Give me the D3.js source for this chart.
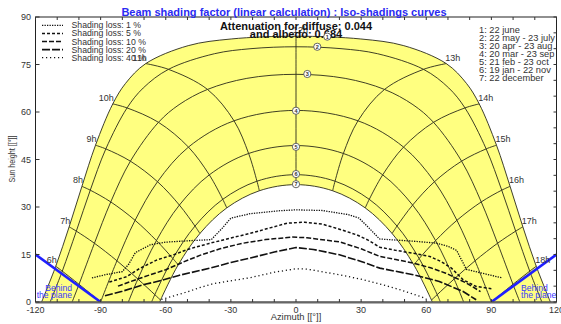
<!DOCTYPE html>
<html>
<head>
<meta charset="utf-8">
<script src="https://cdn.jsdelivr.net/npm/d3@7"></script>
<style>
  body { margin: 0; background: #fff; }
  svg { display: block; font-family: "Liberation Sans", Arial, sans-serif; }
</style>
</head>
<body>
<div id="chart"></div>
<script>
// sun paths: [solar hour, azimuth, height], hour null = sunrise / sunset
const datesLabels = ['1: 22 june', '2: 22 may - 23 july', '3: 20 apr - 23 aug', '4: 20 mar - 23 sep',
  '5: 21 feb - 23 oct', '6: 19 jan - 22 nov', '7: 22 december'];

const path1 = [[null,-117.19,0],[6,-110.67,11.29],[7,-104.50,23.74],[8,-98.61,36.52],[9,-92.36,49.51],[10,-84.40,62.56],[10.5,-78.54,69.02],[11,-69.21,75.29],[11.5,-49.67,80.95],[11.75,-29.85,83.06],[12,0,83.93],[12.25,29.85,83.06],[12.5,49.67,80.95],[13,69.21,75.29],[13.5,78.54,69.02],[14,84.40,62.56],[15,92.36,49.51],[16,98.61,36.52],[17,104.50,23.74],[18,110.67,11.29],[null,117.19,0]];
const path2 = [[null,-113.26,0],[6,-107.67,9.74],[7,-101.19,22.38],[8,-94.77,35.31],[9,-87.60,48.35],[10,-77.82,61.29],[10.5,-70.38,67.58],[11,-58.75,73.47],[11.5,-37.58,78.40],[11.75,-20.73,80.00],[12,0,80.60],[12.25,20.73,80.00],[12.5,37.58,78.40],[13,58.75,73.47],[13.5,70.38,67.58],[14,77.82,61.29],[15,87.60,48.35],[16,94.77,35.31],[17,101.19,22.38],[18,107.67,9.74],[null,113.26,0]];
const path3 = [[null,-103.13,0],[6,-99.95,5.58],[7,-92.85,18.55],[8,-85.33,31.60],[9,-76.28,44.47],[10,-63.35,56.74],[10.5,-53.87,62.31],[11,-40.77,67.13],[11.5,-22.66,70.62],[12,0,71.90],[12.5,22.66,70.62],[13,40.77,67.13],[13.5,53.87,62.31],[14,63.35,56.74],[15,76.28,44.47],[16,85.33,31.60],[17,92.85,18.55],[18,99.95,5.58],[null,103.13,0]];
const path4 = [[6,-90,0],[7,-82.48,13.02],[8,-74.13,25.80],[9,-63.79,37.98],[10,-49.54,48.92],[11,-28.55,57.22],[12,0,60.50],[13,28.55,57.22],[14,49.54,48.92],[15,63.79,37.98],[16,74.13,25.80],[17,82.48,13.02],[18,90,0]];
const path5 = [[null,-77.22,0],[7,-72.84,7.25],[8,-64.29,19.40],[9,-53.72,30.61],[10,-39.94,40.15],[11,-21.83,46.90],[12,0,49.40],[13,21.83,46.90],[14,39.94,40.15],[15,53.72,30.61],[16,64.29,19.40],[17,72.84,7.25],[null,77.22,0]];
const path6 = [[null,-66.51,0],[7,-65.05,2.32],[8,-56.73,13.73],[9,-46.53,23.98],[10,-33.75,32.42],[11,-17.98,38.15],[12,0,40.20],[13,17.98,38.15],[14,33.75,32.42],[15,46.53,23.98],[16,56.73,13.73],[17,65.05,2.32],[null,66.51,0]];
const path7 = [[null,-62.81,0],[7,-62.41,0.62],[8,-54.25,11.74],[9,-44.26,21.64],[10,-31.89,29.72],[11,-16.88,35.13],[12,0,37.06],[13,16.88,35.13],[14,31.89,29.72],[15,44.26,21.64],[16,54.25,11.74],[17,62.41,0.62],[null,62.81,0]];

const hours = [6, 7, 8, 9, 10, 11, 12, 13, 14, 15, 16, 17, 18];
const markerPos = [[14.4,83.8],[9.8,80.6],[5.2,72.0],[0,60.4],[0,49.0],[0,40.4],[0,37.2]];

// iso-shading curves [azimuth, height]
const shadeNames = ['Shading loss: 1 %', 'Shading loss: 5 %', 'Shading loss: 10 %', 'Shading loss: 20 %', 'Shading loss: 40 %'];
const shade1 = [[-94,7.6],[-88,8.6],[-80,9.6],[-77,12.0],[-74,15.6],[-67,18.1],[-60,18.9],[-48,19.4],[-39,19.7],[-34,23.3],[-30,26.5],[-21,27.9],[-8,28.8],[0,29.1],[12,28.9],[24,27.6],[29,26.5],[33,23.8],[38.5,19.9],[54,19.2],[64.5,18.6],[70,17.6],[74,16.3],[78.5,10.3],[84.5,9.3],[95,7.6]];
const shade2 = [[-86,6.3],[-78,8.0],[-72,10.6],[-64,13.3],[-56,15.0],[-50,16.6],[-40,18.5],[-30,20.2],[-21,21.7],[-12,23.4],[-4,24.9],[4,25.2],[12,24.6],[20,23.0],[28,21.2],[33,19.6],[38.6,17.3],[46,16.3],[54,15.4],[61.6,14.4],[67,12.7],[71.6,10.7],[77,7.0],[83,4.9],[90,4.2]];
const shade3 = [[-82,5.0],[-76,6.5],[-68,8.4],[-60,10.2],[-52,12.6],[-44,14.8],[-35,16.8],[-25,18.5],[-14,19.7],[-2,20.5],[5,20.3],[20,19.0],[30,16.8],[38.6,14.4],[46,13.4],[54,12.3],[62,10.8],[69,9.1],[78.5,6.0],[85,3.3]];
const shade4 = [[-88,2.0],[-80,3.4],[-70,5.5],[-62,6.8],[-54,8.4],[-39.5,10.7],[-30,12.5],[-21,13.9],[-10,15.8],[0,17.2],[8,16.6],[20,14.9],[30,12.8],[38.6,10.7],[54,8.6],[66,6.5],[77,3.3],[83,0.7]];
const shade5 = [[-62,0.8],[-51,3.0],[-44,4.6],[-38,5.8],[-21,7.7],[-10,9.4],[0,10.5],[5,10.4],[20,8.6],[30,7.2],[38.6,5.7],[47.8,3.9],[57,1.8],[60,1.0]];

const behindWest = [[-120,15],[-90,0]];
const behindEast = [[90,0],[120,15]];

const xTicks = [-120, -90, -60, -30, 0, 30, 60, 90, 120];
const yTicks = [0, 15, 30, 45, 60, 75, 90];

const width = 561;
const height = 324;
const mLeft = 35.5, mRight = 556.5, mTop = 17, mBottom = 302;

const svg = d3.select('#chart').append('svg')
  .attr('width', width)
  .attr('height', height);

/* Scale */
const xScale = d3.scaleLinear().domain([-120, 120]).range([mLeft, mRight]);
const yScale = d3.scaleLinear().domain([0, 90]).range([mBottom, mTop]);

svg.append('defs').append('clipPath').attr('id', 'plot')
  .append('rect')
  .attr('x', mLeft).attr('y', mTop)
  .attr('width', mRight - mLeft).attr('height', mBottom - mTop);

const plot = svg.append('g').attr('clip-path', 'url(#plot)');

const sunLine = d3.line()
  .x(d => xScale(d[1]))
  .y(d => yScale(d[2]))
  .curve(d3.curveCatmullRom);

const paths = [path1, path2, path3, path4, path5, path6, path7];

/* yellow band between june and december */
const outer = sunLine(path1);
const inner = sunLine(path7.slice().reverse()).replace(/^M/, 'L');
plot.append('path')
  .attr('d', outer + inner + 'Z')
  .attr('fill', '#ffff80')
  .attr('stroke', 'none');

/* date curves */
plot.selectAll('.date-line')
  .data(paths).enter()
  .append('path')
  .attr('class', 'date-line')
  .attr('d', d => sunLine(d))
  .attr('fill', 'none')
  .attr('stroke', '#2a2a1a')
  .attr('stroke-width', 0.9);

/* hour lines */
const hourPts = hours.map(h => paths.map(p => p.find(q => q[0] === h)).filter(q => q));
plot.selectAll('.hour-line')
  .data(hourPts).enter()
  .append('path')
  .attr('class', 'hour-line')
  .attr('d', d => sunLine(d))
  .attr('fill', 'none')
  .attr('stroke', '#2a2a1a')
  .attr('stroke-width', 0.9);

/* iso-shading curves */
const shades = [shade1, shade2, shade3, shade4, shade5];
const dashes = ['1.3,1.2', '3,2', '5,2', '8,2', '1.2,2.8'];
const widths = [1.3, 1.5, 1.5, 1.6, 1.3];
const shadeLine = d3.line()
  .x(d => xScale(d[0]))
  .y(d => yScale(d[1]));

plot.selectAll('.shade')
  .data(shades).enter()
  .append('path')
  .attr('class', 'shade')
  .attr('d', d => shadeLine(d))
  .attr('fill', 'none')
  .attr('stroke', '#111')
  .attr('stroke-width', (d, i) => widths[i])
  .attr('stroke-dasharray', (d, i) => dashes[i]);

/* behind the plane */
plot.selectAll('.behind')
  .data([behindWest, behindEast]).enter()
  .append('path')
  .attr('class', 'behind')
  .attr('d', d => shadeLine(d))
  .attr('fill', 'none')
  .attr('stroke', '#1f1fff')
  .attr('stroke-width', 2.6);

/* hour labels at the june curve */
svg.selectAll('.hour-label')
  .data(hours).enter()
  .append('text')
  .attr('class', 'hour-label')
  .attr('x', h => {
    const p = path1.find(q => q[0] === h);
    return h < 12 ? xScale(p[1]) + 1 : h > 12 ? xScale(p[1]) - 1 : xScale(p[1]) - 3;
  })
  .attr('y', h => yScale(path1.find(q => q[0] === h)[2]) - 3)
  .attr('text-anchor', h => h < 12 ? 'end' : 'start')
  .attr('font-size', '9px')
  .attr('fill', '#333')
  .text(h => h + 'h');

/* behind the plane text */
const bw = svg.append('text').attr('font-size', '8.6px').attr('fill', '#3a3aff').attr('text-anchor', 'end');
bw.append('tspan').attr('x', 72).attr('y', 291).text('Behind');
bw.append('tspan').attr('x', 72).attr('y', 298).text('the plane');
const be = svg.append('text').attr('font-size', '8.6px').attr('fill', '#3a3aff').attr('text-anchor', 'start');
be.append('tspan').attr('x', 521).attr('y', 291).text('Behind');
be.append('tspan').attr('x', 521).attr('y', 298).text('the plane');

/* frame and ticks */
svg.append('rect')
  .attr('x', mLeft).attr('y', mTop)
  .attr('width', mRight - mLeft).attr('height', mBottom - mTop)
  .attr('fill', 'none')
  .attr('stroke', '#222')
  .attr('stroke-width', 1);
svg.append('line')
  .attr('x1', mLeft).attr('x2', mRight)
  .attr('y1', mBottom + 0.5).attr('y2', mBottom + 0.5)
  .attr('stroke', '#666').attr('stroke-width', 2);

const xMinor = d3.range(-120, 121, 10);
const yMinor = d3.range(0, 91, 5);
const ticks = svg.append('g').attr('stroke', '#333').attr('stroke-width', 1);
xMinor.forEach(v => {
  ticks.append('line').attr('x1', xScale(v)).attr('x2', xScale(v)).attr('y1', mBottom).attr('y2', mBottom - 3);
  ticks.append('line').attr('x1', xScale(v)).attr('x2', xScale(v)).attr('y1', mTop).attr('y2', mTop + 3);
});
yMinor.forEach(v => {
  ticks.append('line').attr('x1', mRight).attr('x2', mRight - 3).attr('y1', yScale(v)).attr('y2', yScale(v));
});
yTicks.forEach(v => {
  ticks.append('line').attr('x1', mLeft).attr('x2', mLeft + 4).attr('y1', yScale(v)).attr('y2', yScale(v));
});

svg.selectAll('.xlab')
  .data(xTicks).enter()
  .append('text')
  .attr('x', d => xScale(d))
  .attr('y', 313)
  .attr('text-anchor', 'middle')
  .attr('font-size', '9px')
  .attr('fill', '#333')
  .text(d => d);

svg.selectAll('.ylab')
  .data(yTicks).enter()
  .append('text')
  .attr('x', 31)
  .attr('y', d => yScale(d) + 3)
  .attr('text-anchor', 'end')
  .attr('font-size', '9px')
  .attr('fill', '#333')
  .text(d => d);

svg.append('text')
  .attr('x', 296).attr('y', 320)
  .attr('text-anchor', 'middle')
  .attr('font-size', '9.4px')
  .attr('fill', '#333')
  .text('Azimuth [[°]]');

svg.append('text')
  .attr('transform', 'translate(15, 159) rotate(-90)')
  .attr('text-anchor', 'middle')
  .attr('font-size', '9px')
  .attr('textLength', 47)
  .attr('lengthAdjust', 'spacingAndGlyphs')
  .attr('fill', '#333')
  .text('Sun height [[°]]');

/* title */
svg.append('text')
  .attr('x', 284).attr('y', 15.5)
  .attr('text-anchor', 'middle')
  .attr('font-size', '11px')
  .attr('font-weight', 'bold')
  .attr('fill', '#2a2af2')
  .text('Beam shading factor (linear calculation) : Iso-shadings curves');

svg.append('text')
  .attr('x', 296).attr('y', 29.5)
  .attr('text-anchor', 'middle')
  .attr('font-size', '11px')
  .attr('font-weight', 'bold')
  .attr('fill', '#111')
  .text('Attenuation for diffuse: 0.044');
svg.append('text')
  .attr('x', 296).attr('y', 38)
  .attr('text-anchor', 'middle')
  .attr('font-size', '11px')
  .attr('font-weight', 'bold')
  .attr('fill', '#111')
  .text('and albedo: 0.684');

/* date markers */
const marks = svg.selectAll('.marker')
  .data(markerPos).enter()
  .append('g')
  .attr('class', 'marker')
  .attr('transform', d => `translate(${xScale(d[0])}, ${yScale(d[1])})`);
marks.append('circle')
  .attr('r', 3.6)
  .attr('fill', '#fff')
  .attr('stroke', '#555')
  .attr('stroke-width', 0.9);
marks.append('text')
  .attr('y', 2)
  .attr('text-anchor', 'middle')
  .attr('font-size', '5.5px')
  .attr('font-weight', 'bold')
  .attr('fill', '#333')
  .text((d, i) => i + 1);

/* legend: dates */
svg.selectAll('.date-leg')
  .data(datesLabels).enter()
  .append('text')
  .attr('x', 479)
  .attr('y', (d, i) => 32.5 + 8 * i)
  .attr('font-size', '9.3px')
  .attr('fill', '#333')
  .text(d => d);

/* legend: shading levels */
const leg = svg.selectAll('.shade-leg')
  .data(shadeNames).enter()
  .append('g')
  .attr('class', 'shade-leg')
  .attr('transform', (d, i) => `translate(0, ${25.3 + 8.1 * i})`);
leg.append('line')
  .attr('x1', 42).attr('x2', 63)
  .attr('stroke', '#111')
  .attr('stroke-width', (d, i) => widths[i])
  .attr('stroke-dasharray', (d, i) => dashes[i]);
leg.append('text')
  .attr('x', 71.5).attr('y', 3)
  .attr('font-size', '8.7px')
  .attr('fill', '#333')
  .text(d => d);
</script>
</body>
</html>
